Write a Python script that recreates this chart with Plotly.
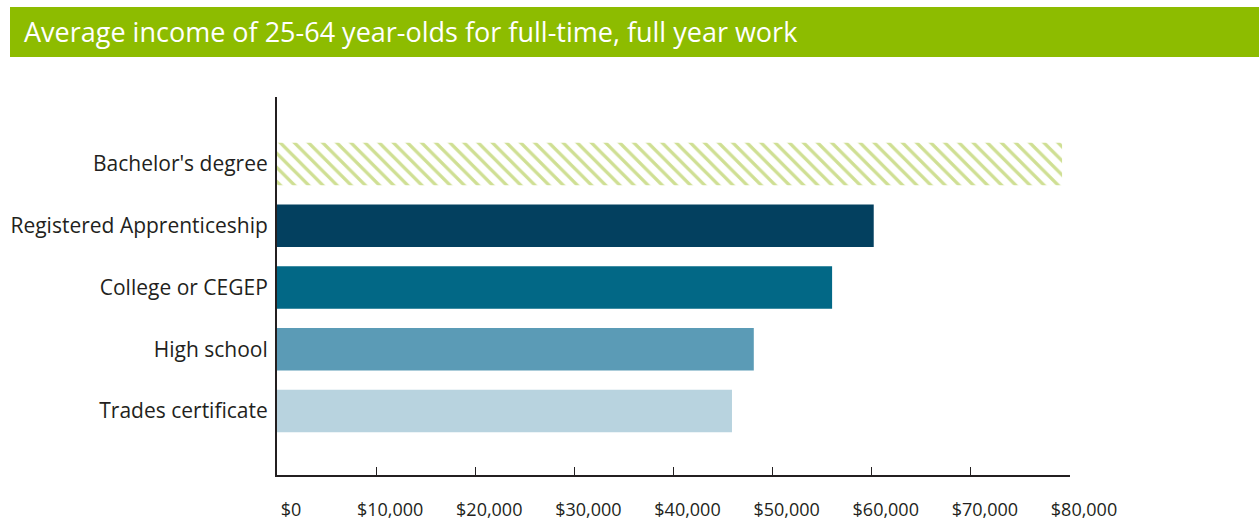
import plotly.graph_objects as go

categories = ["Bachelor's degree", "Registered Apprenticeship", "College or CEGEP", "High school", "Trades certificate"]
values = [79200, 60200, 56000, 48100, 45900]
colors = ["#cfdf93", "#03405f", "#026886", "#5b9bb6", "#b8d3df"]
shapes_pat = ["\\", "", "", "", ""]
tick_vals = [0, 10000, 20000, 30000, 40000, 50000, 60000, 70000, 80000]
tick_text = ["$0", "$10,000", "$20,000", "$30,000", "$40,000", "$50,000", "$60,000", "$70,000", "$80,000"]
title_text = "Average income of 25-64 year-olds for full-time, full year work"

W, H = 1259, 520
L, T = 277, 97
R, B = W - 1070, H - 475
pw, ph = W - L - R, H - T - B

fig = go.Figure(go.Bar(
    y=categories, x=values, orientation="h", width=0.69,
    marker=dict(
        color=colors, line=dict(width=0),
        pattern=dict(shape=shapes_pat, fgcolor="white", bgcolor=colors,
                     fillmode="replace", size=10, solidity=0.33),
    ),
    hoverinfo="skip",
))

font = "Open Sans, Noto Sans, sans-serif"
fig.update_layout(
    width=W, height=H, margin=dict(l=L, r=R, t=T, b=B, autoexpand=False),
    plot_bgcolor="white", paper_bgcolor="white", showlegend=False,
    font=dict(family=font, color="#231f20"),
    xaxis=dict(range=[0, 80000], tickvals=tick_vals, ticktext=tick_text, automargin=False,
               showgrid=False, zeroline=False, showline=True, linecolor="#231f20",
               linewidth=2, ticks="inside", ticklen=8, tickwidth=1, tickcolor="#231f20",
               tickfont=dict(size=18, color="#231f20"), ticklabelstandoff=17,
               ticklabelshift=14),
    yaxis=dict(range=[5.036, -1.085], showgrid=False, zeroline=False, showline=True,
               automargin=False,
               linecolor="#231f20", linewidth=2, ticks="", ticklabelstandoff=3,
               tickfont=dict(size=21, color="#231f20")),
    title=dict(text=title_text, xref="container", yref="container",
               x=24 / W, xanchor="left", y=1 - 33 / H, yanchor="middle",
               font=dict(size=27, color="white", family=font)),
    shapes=[dict(type="rect", xref="paper", yref="paper", layer="below",
                 x0=(10 - L) / pw, x1=(W - L) / pw,
                 y0=(H - B - 57) / ph, y1=(H - B - 7) / ph,
                 fillcolor="#8dbc00", line=dict(width=0))],
)

fig.write_html("out.html", config={"displayModeBar": False},
               post_script="document.body.style.margin='0';document.body.style.overflow='hidden';")
